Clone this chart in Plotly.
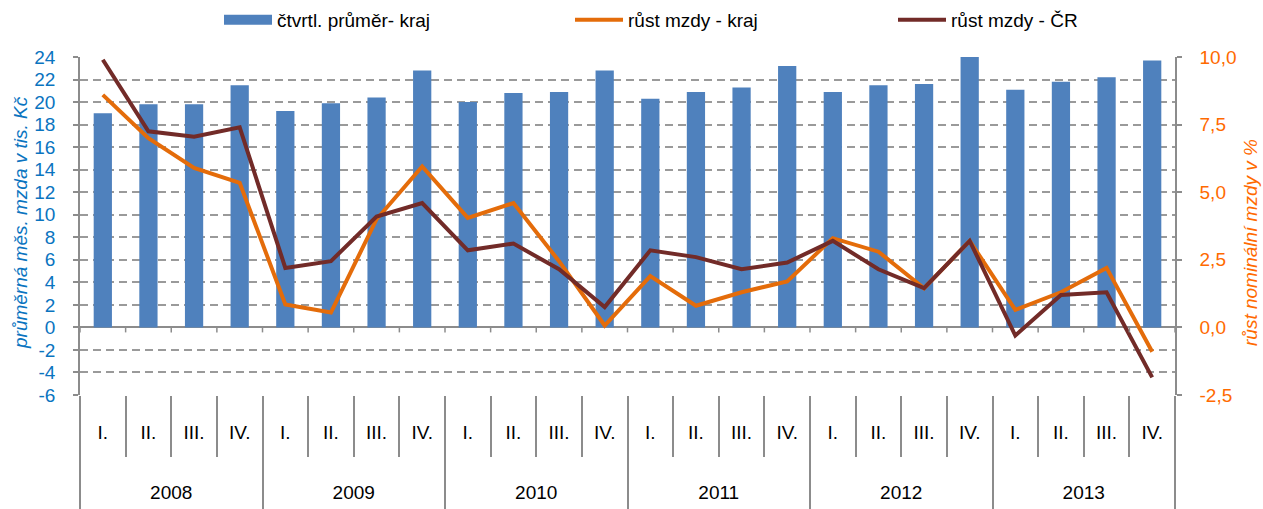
import plotly.graph_objects as go

years = ["2008", "2009", "2010", "2011", "2012", "2013"]
quarters = ["I.", "II.", "III.", "IV."]

avg_wage_kraj = [19.0, 19.8, 19.8, 21.5,
                 19.2, 19.9, 20.4, 22.8,
                 20.0, 20.8, 20.9, 22.8,
                 20.3, 20.9, 21.3, 23.2,
                 20.9, 21.5, 21.6, 24.0,
                 21.1, 21.8, 22.2, 23.7]
growth_kraj = [8.6, 7.0, 5.9, 5.35,
               0.85, 0.55, 4.0, 5.95,
               4.05, 4.6, 2.45, 0.07,
               1.9, 0.8, 1.3, 1.7,
               3.3, 2.8, 1.45, 3.2,
               0.65, 1.3, 2.2, -0.9]
growth_cr = [9.9, 7.25, 7.05, 7.4,
             2.2, 2.45, 4.1, 4.6,
             2.85, 3.1, 2.15, 0.75,
             2.85, 2.6, 2.15, 2.4,
             3.2, 2.15, 1.45, 3.2,
             -0.3, 1.2, 1.3, -1.85]

left_ticks = list(range(-6, 25, 2))
left_ticktext = [str(v) for v in left_ticks]
right_ticks = [-2.5, 0.0, 2.5, 5.0, 7.5, 10.0]
right_ticktext = ["-2,5", "0,0", "2,5", "5,0", "7,5", "10,0"]

x_keys = [f"{q} {y}" for y in years for q in quarters]
x_quarters = [q for y in years for q in quarters]
n = len(x_keys)
nq = len(quarters)
year_centers = [i * nq + (nq - 1) / 2 for i in range(len(years))]
year_bounds = [i * nq - 0.5 for i in range(len(years) + 1)]

FONT = "Liberation Sans, Arial, sans-serif"
BLUE_BAR = "#4F81BD"
ORANGE = "#E46C0A"
DARKRED = "#722B28"
GRID = "#9A9A9A"
AXIS = "#8C8C8C"
BLUE_TXT = "#0A74BF"
ORANGE_TXT = "#FF6A00"

W, H = 1263, 509
ML, MR, MT, MB = 80, 88, 57, 114
PW, PH = W - ML - MR, H - MT - MB


def px_x(p):  # page pixel -> paper x
    return (p - ML) / PW


def px_y(p):  # page pixel -> paper y
    return (H - MB - p) / PH


fig = go.Figure()
fig.add_trace(go.Bar(x=x_keys, y=avg_wage_kraj, name="čtvrtl. průměr- kraj",
                     marker=dict(color=BLUE_BAR, line=dict(width=0)), yaxis="y",
                     showlegend=False))
# legend proxy for the bar series (wide rectangle symbol); also anchors the year axis
fig.add_trace(go.Scatter(x=[None], y=[None], name="čtvrtl. průměr- kraj", mode="lines",
                         line=dict(color=BLUE_BAR, width=10), legend="legend",
                         xaxis="x2", yaxis="y", hoverinfo="skip"))
fig.add_trace(go.Scatter(x=x_keys, y=growth_kraj, name="růst mzdy - kraj", mode="lines",
                         line=dict(color=ORANGE, width=4), yaxis="y2", legend="legend2"))
fig.add_trace(go.Scatter(x=x_keys, y=growth_cr, name="růst mzdy - ČR", mode="lines",
                         line=dict(color=DARKRED, width=4), yaxis="y2", legend="legend3"))

# small tick marks on the zero line at category boundaries
shapes = []
for i in range(n + 1):
    shapes.append(dict(type="line", xref="x", yref="y", x0=i - 0.5, x1=i - 0.5,
                       ysizemode="pixel", yanchor=0, y0=0, y1=-5,
                       line=dict(color=AXIS, width=1.5)))

leg_common = dict(orientation="h", y=px_y(20), yanchor="middle", xanchor="left",
                  font=dict(size=19, color="black", family=FONT), itemwidth=48,
                  bgcolor="rgba(0,0,0,0)")

fig.update_layout(
    width=W, height=H,
    margin=dict(l=ML, r=MR, t=MT, b=MB, autoexpand=False),
    paper_bgcolor="white", plot_bgcolor="white",
    bargap=0.6,
    font=dict(family=FONT, size=19, color="black"),
    showlegend=True,
    legend=dict(x=px_x(219), **leg_common),
    legend2=dict(x=px_x(570), **leg_common),
    legend3=dict(x=px_x(893), **leg_common),
    shapes=shapes,
    annotations=[
        dict(text="průměrná měs. mzda v tis. Kč", xref="paper", yref="paper",
             x=px_x(21), y=px_y(223), textangle=-90, showarrow=False,
             xanchor="center", yanchor="middle",
             font=dict(size=19, color=BLUE_TXT, family=FONT, style="italic")),
        dict(text="růst nominální mzdy v %", xref="paper", yref="paper",
             x=px_x(1251), y=px_y(243), textangle=-90, showarrow=False,
             xanchor="center", yanchor="middle",
             font=dict(size=19, color=ORANGE_TXT, family=FONT, style="italic")),
    ],
    xaxis=dict(type="category", tickmode="array", tickvals=x_keys, ticktext=x_quarters,
               tickson="boundaries", ticks="outside", ticklen=61,
               tickcolor=AXIS, tickwidth=1.5, showline=False, showgrid=False,
               tickfont=dict(size=19, color="black"), ticklabelstandoff=24,
               range=[-0.5, n - 0.5]),
    xaxis2=dict(type="linear", overlaying="x", anchor="y", side="bottom",
                range=[-0.5, n - 0.5], tickmode="array", tickvals=year_centers,
                ticktext=years, ticks="", showline=False, showgrid=False, zeroline=False,
                tickfont=dict(size=19, color="black"), ticklabelstandoff=84,
                minor=dict(tickmode="array", tickvals=year_bounds, ticks="outside",
                           ticklen=114, tickcolor=AXIS, tickwidth=1.5, showgrid=False)),
    yaxis=dict(range=[-6, 24], tickvals=left_ticks, ticktext=left_ticktext, showgrid=True,
               gridcolor=GRID, gridwidth=1.5, griddash="8px,5px",
               zeroline=True, zerolinecolor=AXIS, zerolinewidth=1.5,
               showline=True, linecolor=AXIS, linewidth=1.5,
               ticks="outside", ticklen=5, tickcolor=AXIS, tickwidth=1.5,
               tickfont=dict(size=19, color=BLUE_TXT), ticklabelstandoff=14),
    yaxis2=dict(range=[-2.5, 10], tickvals=right_ticks, ticktext=right_ticktext,
                overlaying="y", side="right", showgrid=False, zeroline=False,
                showline=True, linecolor=AXIS, linewidth=1.5,
                ticks="outside", ticklen=5, tickcolor=AXIS, tickwidth=1.5,
                tickfont=dict(size=19, color=ORANGE_TXT), ticklabelstandoff=14),
)

fig.write_html("out.html",
               config={"displayModeBar": False},
               post_script="document.body.style.margin='0';"
                           "document.body.style.overflow='hidden';")
